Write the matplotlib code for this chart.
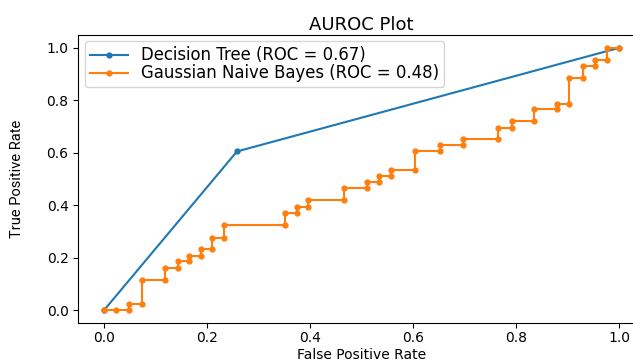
import matplotlib
matplotlib.use("Agg")
import matplotlib.pyplot as plt

# ROC points for the two classifiers
dt_fpr = [0.0, 0.258, 1.0]
dt_tpr = [0.0, 0.605, 1.0]
dt_label = "Decision Tree (ROC = 0.67)"

gnb_fpr = [0.0, 0.023, 0.049, 0.049, 0.073, 0.073, 0.118, 0.118, 0.143, 0.143,
           0.165, 0.165, 0.188, 0.188, 0.210, 0.210, 0.233, 0.233, 0.351, 0.351,
           0.374, 0.374, 0.396, 0.396, 0.466, 0.466, 0.511, 0.511, 0.533, 0.533,
           0.557, 0.557, 0.603, 0.603, 0.652, 0.652, 0.697, 0.697, 0.764, 0.764,
           0.792, 0.792, 0.834, 0.834, 0.880, 0.880, 0.903, 0.903, 0.929, 0.929,
           0.953, 0.953, 0.976, 0.976, 1.0]
gnb_tpr = [0.0, 0.0, 0.0, 0.025, 0.025, 0.116, 0.116, 0.161, 0.161, 0.189,
           0.189, 0.208, 0.208, 0.233, 0.233, 0.275, 0.275, 0.325, 0.325, 0.371,
           0.371, 0.392, 0.392, 0.420, 0.420, 0.466, 0.466, 0.488, 0.488, 0.510,
           0.510, 0.535, 0.535, 0.606, 0.606, 0.628, 0.628, 0.651, 0.651, 0.696,
           0.696, 0.723, 0.723, 0.765, 0.765, 0.787, 0.787, 0.885, 0.885, 0.929,
           0.929, 0.955, 0.955, 1.0, 1.0]
gnb_label = "Gaussian Naive Bayes (ROC = 0.48)"

ticks = [0.0, 0.2, 0.4, 0.6, 0.8, 1.0]

fig = plt.figure(figsize=(6.33, 3.62), dpi=100)
ax = fig.add_axes([0.1237, 0.1069, 0.895, 0.7972])

ax.plot(dt_fpr, dt_tpr, marker=".", markersize=7, label=dt_label)
ax.plot(gnb_fpr, gnb_tpr, marker=".", markersize=7, label=gnb_label)

ax.set_title("AUROC Plot", fontsize=13, pad=3.5)
ax.set_xlabel("False Positive Rate", fontsize=10)
ax.xaxis.set_label_coords(0.5, -0.085)
ax.set_ylabel("True Positive Rate", fontsize=10.5,
              family=["Liberation Sans Narrow", "Roboto", "DejaVu Sans"])
ax.yaxis.set_label_coords(-0.096, 0.5)
ax.set_xticks(ticks)
ax.set_yticks(ticks)
ax.tick_params(labelsize=10)
ax.tick_params(axis="x", pad=2)
ax.legend(loc="upper left", fontsize=11.9, labelspacing=0.0, borderpad=0.3,
          handlelength=2.3, borderaxespad=0.4)

fig.savefig("out.png", dpi=100)
